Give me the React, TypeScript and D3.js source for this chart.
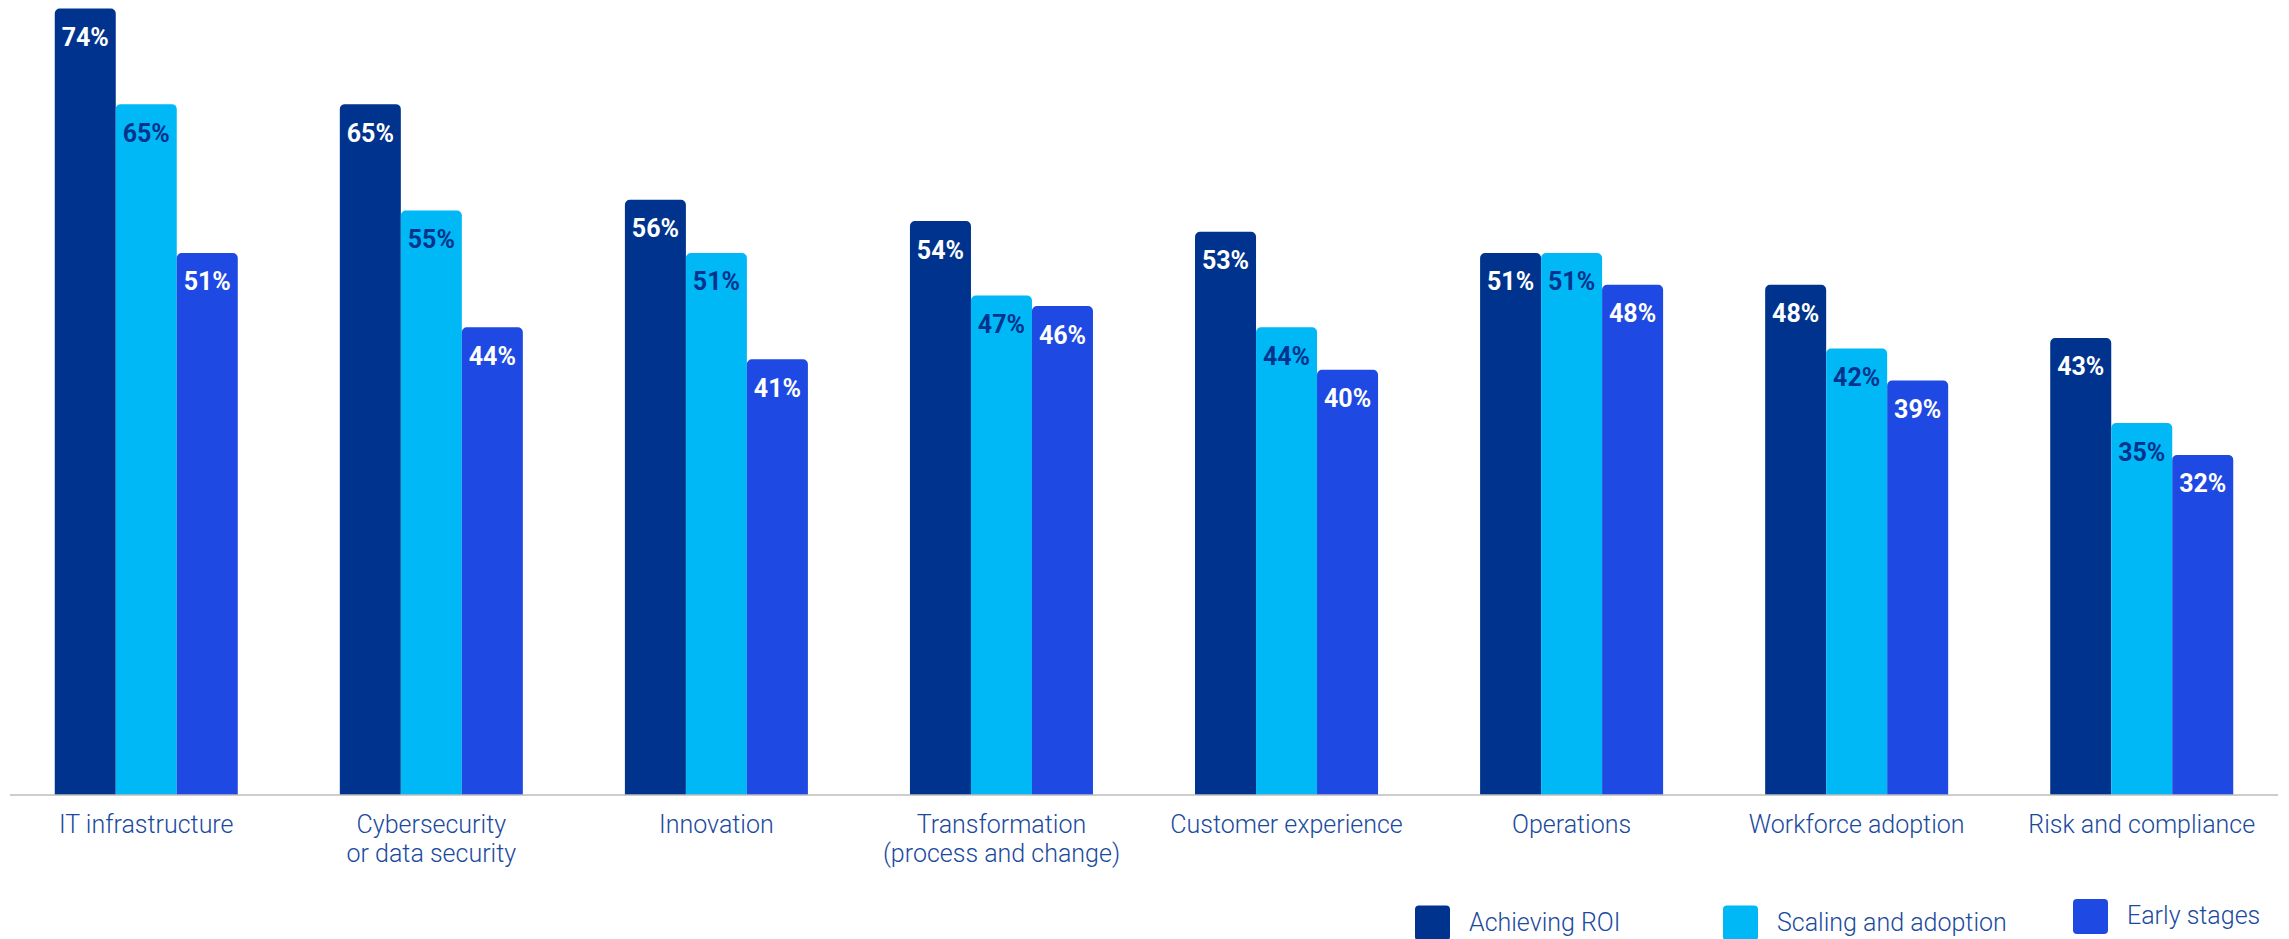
import React from "react";
import * as d3 from "d3";

const categories: string[][] = [
  ["IT infrastructure"],
  ["Cybersecurity", "or data security"],
  ["Innovation"],
  ["Transformation", "(process and change)"],
  ["Customer experience"],
  ["Operations"],
  ["Workforce adoption"],
  ["Risk and compliance"],
];
const seriesNames = ["Achieving ROI", "Scaling and adoption", "Early stages"];
const achievingROI = [74, 65, 56, 54, 53, 51, 48, 43];
const scalingAdoption = [65, 55, 51, 47, 44, 51, 42, 35];
const earlyStages = [51, 44, 41, 46, 40, 48, 39, 32];
const seriesValues = [achievingROI, scalingAdoption, earlyStages];
const barColors = ["#00338D", "#00B8F5", "#1E49E2"];
const labelColors = ["#FFFFFF", "#00338D", "#FFFFFF"];

const W = 2289;
const H = 939;
const baseY = 795;
const textFont = "Roboto, 'Noto Sans', sans-serif";

function topRoundedRect(x: number, y: number, w: number, h: number, r: number) {
  const rr = Math.min(r, w / 2, h);
  const p = d3.path();
  p.moveTo(x, y + h);
  p.lineTo(x, y + rr);
  p.arcTo(x, y, x + rr, y, rr);
  p.lineTo(x + w - rr, y);
  p.arcTo(x + w, y, x + w, y + rr, rr);
  p.lineTo(x + w, y + h);
  p.closePath();
  return p.toString();
}

export default function App() {
  const idx = categories.map((_, i) => String(i));
  const x0 = d3
    .scaleBand<string>()
    .domain(idx)
    .range([10, 2278])
    .paddingInner(0.358)
    .paddingOuter(0.157);
  const x1 = d3
    .scaleBand<string>()
    .domain(seriesNames)
    .range([0, x0.bandwidth()])
    .padding(0);
  const y = d3.scaleLinear().domain([0, 74]).range([baseY, 8.5]);

  const legendX = [1415, 1723, 2073];
  const legendDy = [0, 0, -6.5];

  return (
    <svg
      width={W}
      height={H}
      style={{ position: "absolute", left: 0, top: 0, background: "#fff" }}
    >
      {categories.map((cat, ci) => (
        <g key={ci} transform={`translate(${x0(String(ci))},0)`}>
          {seriesNames.map((s, si) => {
            const v = seriesValues[si][ci];
            const bx = x1(s)!;
            const by = y(v);
            const bw = x1.bandwidth();
            return (
              <g key={s}>
                <path d={topRoundedRect(bx, by, bw, baseY - by, 5)} fill={barColors[si]} />
                <text
                  x={bx + bw / 2}
                  y={by + 37.5}
                  textAnchor="middle"
                  fontFamily={textFont}
                  fontWeight={700}
                  fontSize={25}
                  fill={labelColors[si]}
                >
                  {v}%
                </text>
              </g>
            );
          })}
          {cat.map((line, li) => (
            <text
              key={li}
              x={x0.bandwidth() / 2}
              y={833 + li * 28.5}
              textAnchor="middle"
              fontFamily={textFont}
              fontWeight={300}
              fontSize={25}
              fill="#1A4A9E"
            >
              {line}
            </text>
          ))}
        </g>
      ))}
      <line x1={10} x2={2278} y1={baseY} y2={baseY} stroke="#BDBDBD" strokeWidth={1.5} />
      {seriesNames.map((s, si) => (
        <g key={s} transform={`translate(${legendX[si]},${legendDy[si]})`}>
          <rect x={0} y={905.5} width={35} height={35} rx={4} fill={barColors[si]} />
          <text
            x={54}
            y={930.5}
            fontFamily={textFont}
            fontWeight={300}
            fontSize={25}
            fill="#1A4A9E"
          >
            {s}
          </text>
        </g>
      ))}
    </svg>
  );
}
